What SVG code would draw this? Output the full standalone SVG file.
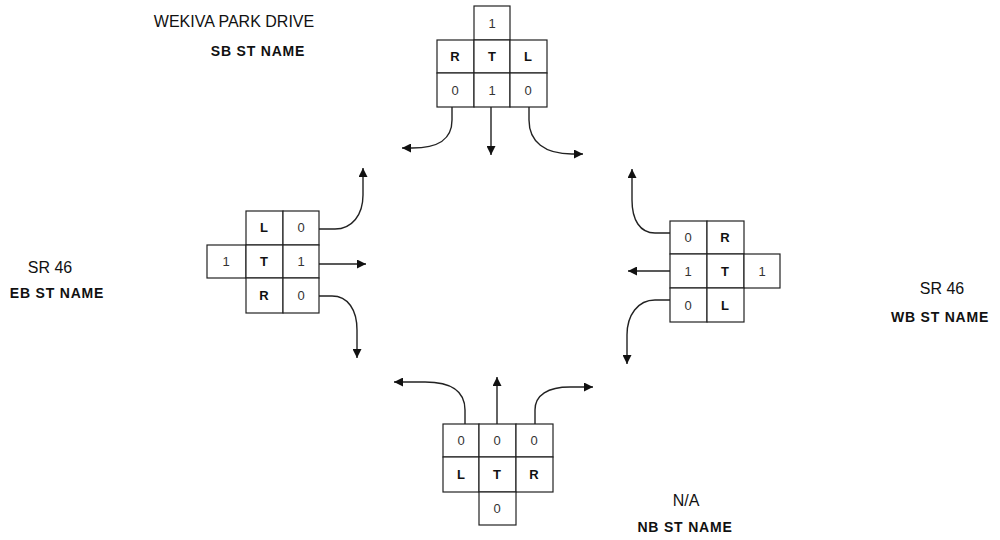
<svg xmlns="http://www.w3.org/2000/svg" width="1000" height="540" viewBox="0 0 1000 540">
<defs>
<marker id="ah" viewBox="0 0 10 10" refX="10" refY="5" markerWidth="9" markerHeight="9" markerUnits="userSpaceOnUse" orient="auto">
<path d="M0,0 L10,5 L0,10 z" fill="#111"/>
</marker>
<style>
.cell{fill:#fff;stroke:#222;stroke-width:1.2}
.mv{font-family:"Liberation Sans",Arial,sans-serif;font-size:13px;font-weight:bold;fill:#111;text-anchor:middle}
.num{font-family:"Liberation Sans",Arial,sans-serif;font-size:13px;fill:#333;text-anchor:middle}
.street{font-family:"Liberation Sans",Arial,sans-serif;font-size:16px;fill:#111;text-anchor:middle}
.dir{font-family:"Liberation Sans",Arial,sans-serif;font-size:14px;font-weight:bold;letter-spacing:0.8px;fill:#111;text-anchor:middle}
.conn{fill:none;stroke:#222;stroke-width:1.4;marker-end:url(#ah)}
</style>
</defs>
<rect width="1000" height="540" fill="#fff"/>

<g id="labels">
<text class="street" x="234" y="27">WEKIVA PARK DRIVE</text>
<text class="dir" x="258" y="56">SB ST NAME</text>
<text class="street" x="50" y="273">SR 46</text>
<text class="dir" x="57" y="298">EB ST NAME</text>
<text class="street" x="942" y="294">SR 46</text>
<text class="dir" x="940" y="322">WB ST NAME</text>
<text class="street" x="686" y="506">N/A</text>
<text class="dir" x="685" y="532">NB ST NAME</text>
</g>

<g id="sb-approach">
<rect class="cell" x="474" y="6" width="36" height="34"/>
<rect class="cell" x="437" y="40" width="37" height="33"/>
<rect class="cell" x="474" y="40" width="36" height="33"/>
<rect class="cell" x="510" y="40" width="37" height="33"/>
<rect class="cell" x="437" y="73" width="37" height="34"/>
<rect class="cell" x="474" y="73" width="36" height="34"/>
<rect class="cell" x="510" y="73" width="37" height="34"/>
<text class="num" x="492" y="28">1</text>
<text class="mv" x="455" y="61">R</text>
<text class="mv" x="492" y="61">T</text>
<text class="mv" x="528" y="61">L</text>
<text class="num" x="455" y="95">0</text>
<text class="num" x="492" y="95">1</text>
<text class="num" x="528" y="95">0</text>
</g>

<g id="eb-approach">
<rect class="cell" x="246" y="211" width="37" height="34"/>
<rect class="cell" x="283" y="211" width="36" height="34"/>
<rect class="cell" x="207" y="245" width="39" height="33"/>
<rect class="cell" x="246" y="245" width="37" height="33"/>
<rect class="cell" x="283" y="245" width="36" height="33"/>
<rect class="cell" x="246" y="278" width="37" height="35"/>
<rect class="cell" x="283" y="278" width="36" height="35"/>
<text class="mv" x="264" y="232">L</text>
<text class="num" x="301" y="232">0</text>
<text class="num" x="226" y="266">1</text>
<text class="mv" x="264" y="266">T</text>
<text class="num" x="301" y="266">1</text>
<text class="mv" x="264" y="300">R</text>
<text class="num" x="301" y="300">0</text>
</g>

<g id="wb-approach">
<rect class="cell" x="670" y="221" width="37" height="33"/>
<rect class="cell" x="707" y="221" width="37" height="33"/>
<rect class="cell" x="670" y="254" width="37" height="34"/>
<rect class="cell" x="707" y="254" width="37" height="34"/>
<rect class="cell" x="744" y="254" width="36" height="34"/>
<rect class="cell" x="670" y="288" width="37" height="34"/>
<rect class="cell" x="707" y="288" width="37" height="34"/>
<text class="num" x="688" y="242">0</text>
<text class="mv" x="725" y="242">R</text>
<text class="num" x="688" y="276">1</text>
<text class="mv" x="725" y="276">T</text>
<text class="num" x="762" y="276">1</text>
<text class="num" x="688" y="310">0</text>
<text class="mv" x="725" y="310">L</text>
</g>

<g id="nb-approach">
<rect class="cell" x="443" y="424" width="36" height="33"/>
<rect class="cell" x="479" y="424" width="37" height="33"/>
<rect class="cell" x="516" y="424" width="37" height="33"/>
<rect class="cell" x="443" y="457" width="36" height="35"/>
<rect class="cell" x="479" y="457" width="37" height="35"/>
<rect class="cell" x="516" y="457" width="37" height="35"/>
<rect class="cell" x="479" y="492" width="37" height="33"/>
<text class="num" x="461" y="445">0</text>
<text class="num" x="497" y="445">0</text>
<text class="num" x="534" y="445">0</text>
<text class="mv" x="461" y="479">L</text>
<text class="mv" x="497" y="479">T</text>
<text class="mv" x="534" y="479">R</text>
<text class="num" x="497" y="513">0</text>
</g>

<g id="connectors">
<path class="conn" d="M452,107 L452,120 C452,140 438,148 412,148 L402,148"/>
<path class="conn" d="M491,107 L491,155"/>
<path class="conn" d="M529,107 L529,120 C529,142 545,154 572,154 L583,154"/>
<path class="conn" d="M319,229 L335,229 C352,229 363,215 363,195 L363,168"/>
<path class="conn" d="M319,264 L366,264"/>
<path class="conn" d="M319,296 L332,296 C348,296 357,310 357,330 L357,358"/>
<path class="conn" d="M670,233 L655,233 C640,233 632,220 632,200 L632,169"/>
<path class="conn" d="M670,271 L628,271"/>
<path class="conn" d="M670,300 L655,300 C638,300 627,315 627,335 L627,364"/>
<path class="conn" d="M465,424 L465,410 C465,390 450,382 425,382 L394,382"/>
<path class="conn" d="M497,424 L497,377"/>
<path class="conn" d="M535,424 L535,410 C535,395 548,387 570,387 L593,387"/>
</g>
</svg>
